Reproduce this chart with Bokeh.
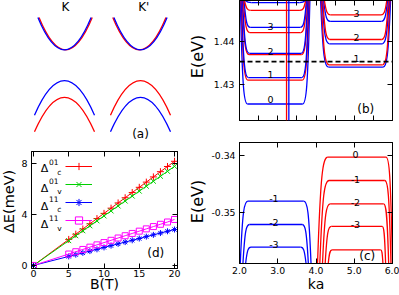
import math
from bokeh.plotting import figure
from bokeh.layouts import row, column
from bokeh.models import (Range1d, LinearAxis, FixedTicker, PrintfTickFormatter, Span,
                          Legend, LegendItem, ColumnDataSource, CustomJSTickFormatter)
from bokeh.embed import file_html
from bokeh.resources import INLINE
from bokeh.core.properties import value

FONT = "DejaVu Sans"
RED, BLUE, GREEN, MAGENTA = "#ff0000", "#0000ff", "#00d000", "#ff00ff"
LW = 1.3

# ---------------- (a) schematic bands ----------------
a_labels = ["K", "K'"]
a_label_k = [-0.974, 1.087]
a_center = [-1.0, 1.0]
a_cond_min = [0.60, 0.60]
a_red_shift = [0.03, -0.03]
a_cond_top = 1.45
a_cond_half = 0.70
a_val_blue = [-0.21, -0.65]
a_val_red = [-0.65, -0.21]
a_val_drop = 0.91
a_val_half = 0.79

# ---------------- (b) conduction Landau levels ----------------
b_left_color = ["blue", "red", "blue", "red", "blue", "red", "blue", "red", "blue"]
b_left_E = [1.4255, 1.4310, 1.4316, 1.4369, 1.4372, 1.4420, 1.4432, 1.4471, 1.4489]
b_left_fl = [2.21, 2.22, 2.23, 2.25, 2.26, 2.27, 2.28, 2.29, 2.31]
b_left_fr = [3.65, 3.64, 3.63, 3.62, 3.61, 3.60, 3.59, 3.58, 3.57]
b_left_wl = [2.02, 2.04, 2.05, 2.07, 2.08, 2.10, 2.12, 2.13, 2.15]
b_left_wr = [3.84, 3.82, 3.81, 3.79, 3.78, 3.76, 3.75, 3.73, 3.72]
b_left_lab = ["0", "1", "2", "3"]
b_left_lab_E = [1.42647, 1.43231, 1.43769, 1.44346]
b_left_lab_ka = 2.81

b_right_color = ["blue", "red", "blue", "red", "blue", "red"]
b_right_E = [1.4340, 1.43455, 1.4394, 1.4404, 1.4446, 1.4461]
b_right_fl = [4.33, 4.34, 4.35, 4.36, 4.37, 4.38]
b_right_fr = [5.75, 5.74, 5.73, 5.72, 5.71, 5.70]
b_right_wl = [4.12, 4.14, 4.16, 4.18, 4.20, 4.22]
b_right_wr = [5.95, 5.93, 5.91, 5.89, 5.87, 5.85]
b_right_lab = ["1", "2", "3"]
b_right_lab_E = [1.43594, 1.44092, 1.44633]
b_right_lab_ka = 5.06

b_edge_ka = [3.23, 3.29]
b_edge_color = ["red", "blue"]
b_fermi = 1.4353

# ---------------- (c) valence Landau levels ----------------
c_blue_E = [-0.34806, -0.35217, -0.35617]
c_blue_fl = [2.22, 2.26, 2.30]
c_blue_fr = [3.68, 3.64, 3.60]
c_blue_wl = [2.02, 2.09, 2.16]
c_blue_wr = [3.87, 3.80, 3.74]
c_blue_lab = ["-1", "-2", "-3"]
c_blue_lab_E = [-0.34764, -0.35176, -0.35575]
c_blue_lab_ka = 2.90

c_red_E = [-0.3403, -0.34441, -0.34852, -0.35252, -0.35663]
c_red_fl = [4.31, 4.34, 4.37, 4.40, 4.42]
c_red_fr = [5.83, 5.80, 5.77, 5.73, 5.69]
c_red_wl = [4.04, 4.10, 4.17, 4.24, 4.32]
c_red_wr = [6.00, 5.96, 5.90, 5.82, 5.75]
c_red_lab = ["0", "-1", "-2", "-3"]
c_red_lab_E = [-0.33988, -0.34423, -0.34824, -0.35222]
c_red_lab_ka = 5.03

# ---------------- (d) splittings vs field ----------------
d_B = [0, 5, 6, 7, 8, 9, 10, 11, 12, 13, 14, 15, 16, 17, 18, 19, 20]
d_01c = [0, 2.05, 2.46, 2.87, 3.28, 3.69, 4.10, 4.51, 4.92, 5.33, 5.74, 6.15, 6.56, 6.97, 7.38, 7.79, 8.20]
d_01v = [0, 1.95, 2.34, 2.73, 3.12, 3.51, 3.90, 4.29, 4.68, 5.07, 5.46, 5.85, 6.24, 6.63, 7.02, 7.41, 7.80]
d_11c = [0, 0.71, 0.85, 0.99, 1.13, 1.27, 1.42, 1.56, 1.70, 1.84, 1.98, 2.12, 2.27, 2.41, 2.55, 2.69, 2.83]
d_11v = [0, 0.90, 1.08, 1.26, 1.44, 1.62, 1.80, 1.98, 2.16, 2.34, 2.52, 2.70, 2.88, 3.06, 3.24, 3.42, 3.62]
d_sup = ["01", "01", "11", "11"]
d_sub = ["c", "v", "c", "v"]


def style_axis(ax, fs="9.3px"):
    ax.major_tick_in = 5
    ax.major_tick_out = 0
    ax.minor_tick_in = 0
    ax.minor_tick_out = 0
    ax.major_label_text_font = FONT
    ax.major_label_text_font_size = fs
    ax.major_label_text_color = "black"
    ax.axis_label_text_font = FONT
    ax.axis_label_text_font_style = "normal"
    ax.axis_label_text_color = "black"
    ax.axis_line_color = "black"
    ax.major_tick_line_color = "black"


def mirror(p, side, ticks):
    ax = LinearAxis(ticker=FixedTicker(ticks=ticks),
                    formatter=CustomJSTickFormatter(code="return ''"))
    style_axis(ax)
    ax.major_label_text_font_size = "0px"
    ax.major_label_standoff = 0
    p.add_layout(ax, side)


def base_fig(w, h, xr, yr, bl, br, bt, bb):
    p = figure(width=w, height=h, x_range=Range1d(*xr), y_range=Range1d(*yr),
               toolbar_location=None, output_backend="svg",
               min_border_left=bl, min_border_right=br, min_border_top=bt, min_border_bottom=bb)
    p.xgrid.visible = False
    p.ygrid.visible = False
    p.outline_line_color = "black"
    p.outline_line_width = 1
    p.background_fill_color = "white"
    p.border_fill_color = "white"
    return p


def bare_fig(w, h, xr, yr):
    p = figure(width=w, height=h, x_range=Range1d(*xr), y_range=Range1d(*yr),
               toolbar_location=None, output_backend="svg", x_axis_location=None,
               y_axis_location=None, min_border=0, min_border_left=0, min_border_right=0,
               min_border_top=0, min_border_bottom=0, outline_line_color=None)
    p.grid.visible = False
    return p


def vtitle(p, x, y, text, size):
    p.text(x=[x], y=[y], text=[text], angle=math.pi / 2, text_align="center",
           text_baseline="middle", text_font=value(FONT), text_font_size=size,
           text_color="black")


def draw_levels(p, colors, E, fl, fr, wl, wr, edge):
    p.segment(x0=fl, y0=E, x1=fr, y1=E, line_color=colors, line_width=LW)
    d = dict(x0=[], y0=[], x1=[], y1=[], cx0=[], cy0=[], cx1=[], cy1=[], c=[])
    for i in range(len(E)):
        for f, w in ((fl[i], wl[i]), (fr[i], wr[i])):
            dx = f - w
            dy = edge - E[i]
            d["x0"].append(f); d["y0"].append(E[i])
            d["x1"].append(w); d["y1"].append(edge)
            d["cx0"].append(f - 0.5 * dx); d["cy0"].append(E[i])
            d["cx1"].append(w + 0.3 * dx); d["cy1"].append(E[i] + 0.15 * dy)
            d["c"].append(colors[i])
    p.bezier(x0="x0", y0="y0", x1="x1", y1="y1", cx0="cx0", cy0="cy0",
             cx1="cx1", cy1="cy1", line_color="c", line_width=LW, source=ColumnDataSource(d))


def level_labels(p, ka, E, txt):
    p.text(x=[ka] * len(E), y=E, text=txt, text_align="center", text_baseline="alphabetic",
           text_font=value(FONT), text_font_size="9.5px", text_color="black")


# ---------------- panel (a) ----------------
pa = bare_fig(181, 145, (-2.684, 2.079), (-1.919, 1.897))
qa = dict(x0=[], y0=[], x1=[], y1=[], cx=[], cy=[], c=[])
def quad(c0, vmin, top, half, col):
    qa["x0"].append(c0 - half); qa["y0"].append(top)
    qa["x1"].append(c0 + half); qa["y1"].append(top)
    qa["cx"].append(c0); qa["cy"].append(2 * vmin - top)
    qa["c"].append(col)
for i in range(2):
    quad(a_center[i] + a_red_shift[i], a_cond_min[i], a_cond_top, a_cond_half, RED)
    quad(a_center[i], a_cond_min[i], a_cond_top, a_cond_half, BLUE)
    quad(a_center[i], a_val_red[i], a_val_red[i] - a_val_drop, a_val_half, RED)
    quad(a_center[i], a_val_blue[i], a_val_blue[i] - a_val_drop, a_val_half, BLUE)
pa.quadratic(x0="x0", y0="y0", x1="x1", y1="y1", cx="cx", cy="cy", line_color="c",
             line_width=LW, source=ColumnDataSource(qa))
pa.text(x=a_label_k, y=[1.718, 1.718], text=a_labels, text_align="center", text_baseline="middle",
        text_font=value(FONT), text_font_size="12px", text_color="black")
pa.text(x=[1.0], y=[-1.611], text=["(a)"], text_align="center", text_baseline="middle",
        text_font=value(FONT), text_font_size="12px", text_color="black")

# ---------------- middle strip with the E(eV) titles ----------------
sm = bare_fig(27, 295, (0, 27), (0, 295))
vtitle(sm, 16, 295 - 56, "E(eV)", "16px")
vtitle(sm, 16, 295 - 201, "E(eV)", "16px")

# ---------------- panel (b) ----------------
b_yr = (1.42169, 1.44940)
pb = base_fig(191, 125, (2.0, 6.0), b_yr, 30, 7, 0, 5)
b_xt = [2.0, 2.5, 3.0, 3.5, 4.0, 4.5, 5.0, 5.5, 6.0]
b_yt = [1.43, 1.44]
pb.xaxis.ticker = FixedTicker(ticks=b_xt)
pb.xaxis.formatter = CustomJSTickFormatter(code="return ''")
pb.yaxis.ticker = FixedTicker(ticks=b_yt)
pb.yaxis.formatter = PrintfTickFormatter(format="%.2f")
style_axis(pb.xaxis[0]); style_axis(pb.yaxis[0])
pb.xaxis.major_label_text_font_size = "0px"
pb.xaxis.major_label_standoff = 0
pb.yaxis.major_label_standoff = 5
mirror(pb, "above", b_xt)
mirror(pb, "right", b_yt)
draw_levels(pb, b_left_color, b_left_E, b_left_fl, b_left_fr, b_left_wl, b_left_wr, b_yr[1])
draw_levels(pb, b_right_color, b_right_E, b_right_fl, b_right_fr, b_right_wl, b_right_wr, b_yr[1])
for k, col in zip(b_edge_ka, b_edge_color):
    pb.add_layout(Span(location=k, dimension="height", line_color=col, line_width=LW))
pb.add_layout(Span(location=b_fermi, dimension="width", line_color="black",
                   line_width=1.8, line_dash="5 3"))
level_labels(pb, b_left_lab_ka, b_left_lab_E, b_left_lab)
level_labels(pb, b_right_lab_ka, b_right_lab_E, b_right_lab)
pb.text(x=[5.30], y=[1.42446], text=["(b)"], text_align="center", text_baseline="middle",
        text_font=value(FONT), text_font_size="12px", text_color="black")

# ---------------- panel (c) ----------------
c_yr = (-0.35905, -0.33771)
pc = base_fig(191, 170, (2.0, 6.0), c_yr, 30, 7, 17, 32)
c_xt = [2.0, 3.0, 4.0, 5.0, 6.0]
c_yt = [-0.35, -0.34]
pc.xaxis.ticker = FixedTicker(ticks=c_xt)
pc.xaxis.formatter = PrintfTickFormatter(format="%.1f")
pc.yaxis.ticker = FixedTicker(ticks=c_yt)
pc.yaxis.formatter = PrintfTickFormatter(format="%.2f")
style_axis(pc.xaxis[0]); style_axis(pc.yaxis[0])
pc.xaxis.major_label_standoff = 3
pc.xaxis.axis_label = "ka"
pc.xaxis.axis_label_text_font_size = "14px"
pc.xaxis.axis_label_standoff = -1
pc.yaxis.major_label_standoff = 4
mirror(pc, "above", c_xt)
mirror(pc, "right", c_yt)
draw_levels(pc, ["blue"] * 3, c_blue_E, c_blue_fl, c_blue_fr, c_blue_wl, c_blue_wr, c_yr[0])
draw_levels(pc, ["red"] * 5, c_red_E, c_red_fl, c_red_fr, c_red_wl, c_red_wr, c_yr[0])
level_labels(pc, c_blue_lab_ka, c_blue_lab_E, c_blue_lab)
level_labels(pc, c_red_lab_ka, c_red_lab_E, c_red_lab)
pc.text(x=[5.34], y=[-0.35781], text=["(c)"], text_align="center", text_baseline="middle",
        text_font=value(FONT), text_font_size="12px", text_color="black")

# ---------------- panel (d) ----------------
sl = bare_fig(18, 150, (0, 18), (0, 150))
vtitle(sl, 8.5, 150 - 64, "ΔE(meV)", "14.5px")

pdd = base_fig(163, 150, (-0.28, 20.42), (-0.24, 8.97), 11, 4, 6, 27)
d_xt = [0, 5, 10, 15, 20]
d_yt = [0, 4, 8]
pdd.xaxis.ticker = FixedTicker(ticks=d_xt)
pdd.yaxis.ticker = FixedTicker(ticks=d_yt)
style_axis(pdd.xaxis[0], "9.5px"); style_axis(pdd.yaxis[0], "9.5px")
pdd.xaxis.major_label_standoff = 1
pdd.xaxis.axis_label = "B(T)"
pdd.xaxis.axis_label_text_font_size = "14px"
pdd.xaxis.axis_label_standoff = -4
pdd.yaxis.major_label_standoff = 4
mirror(pdd, "above", d_xt)
mirror(pdd, "right", d_yt)

series = [(d_01c, RED, "cross", 7, RED),
          (d_01v, GREEN, "x", 7, GREEN),
          (d_11c, BLUE, "asterisk", 6, BLUE),
          (d_11v, MAGENTA, "square", 6, None)]
items = []
for vals, col, mk, sz, fc in series:
    ln = pdd.line(d_B, vals, line_color=col, line_width=1)
    sc = pdd.scatter(d_B, vals, marker=mk, size=sz, line_color=col, fill_color=fc, line_width=1)
    items.append(LegendItem(label=" ", renderers=[ln, sc]))
leg = Legend(items=items, location=(34, 39), glyph_width=27, glyph_height=18, label_height=18,
             label_width=0, spacing=0, padding=0, margin=0, label_standoff=0,
             label_text_font_size="1px", background_fill_alpha=0, border_line_alpha=0)
pdd.add_layout(leg)

leg_y = [7.61, 6.08, 4.64, 3.20]
pdd.text(x=[1.02] * 4, y=leg_y, text=["Δ"] * 4, text_baseline="alphabetic",
         text_font=value(FONT), text_font_size="11px", text_color="black")
pdd.text(x=[2.2] * 4, y=[v + 0.57 for v in leg_y], text=d_sup, text_baseline="alphabetic",
         text_font=value(FONT), text_font_size="7.5px", text_color="black")
pdd.text(x=[3.36] * 4, y=[v - 0.27 for v in leg_y], text=d_sub, text_baseline="alphabetic",
         text_font=value(FONT), text_font_size="7.5px", text_color="black")
pdd.text(x=[17.34], y=[0.98], text=["(d)"], text_align="center", text_baseline="middle",
         text_font=value(FONT), text_font_size="12px", text_color="black")

layout = row(column(pa, row(sl, pdd)), sm, column(pb, pc))
open("out.html", "w").write(file_html(layout, INLINE))
